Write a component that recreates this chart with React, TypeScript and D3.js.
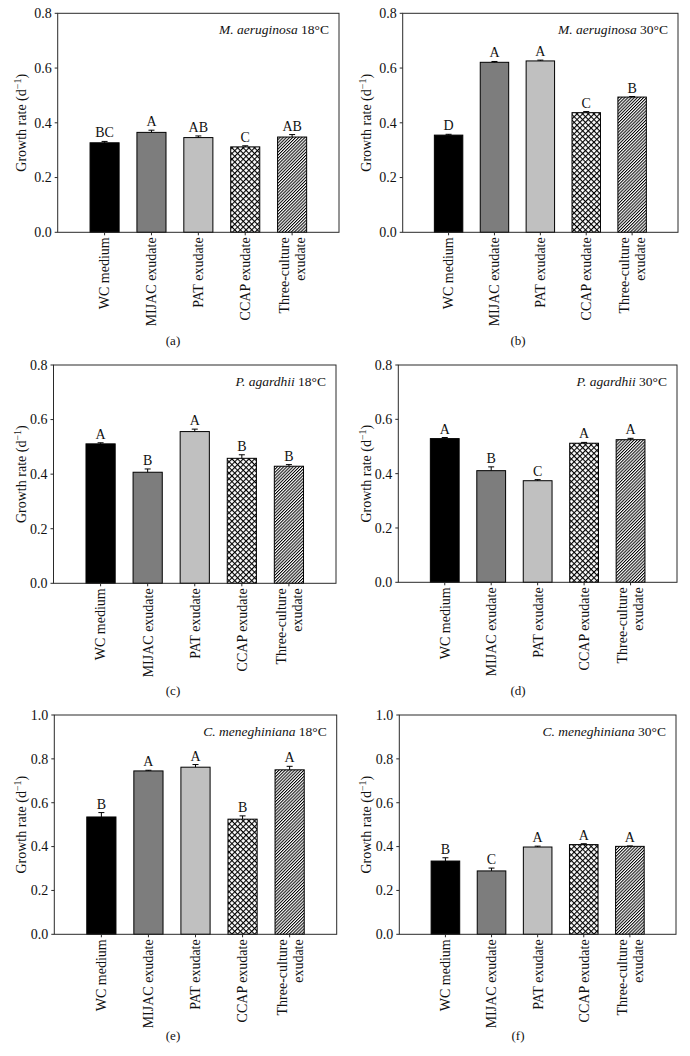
import React from "react";
import * as d3 from "d3";

// ---- data ----
const categories = ["WC medium", "MIJAC exudate", "PAT exudate", "CCAP exudate", "Three-culture exudate"];
const categoryLines = [["WC medium"], ["MIJAC exudate"], ["PAT exudate"], ["CCAP exudate"], ["Three-culture", "exudate"]];

const maeru18 = [0.327, 0.365, 0.346, 0.312, 0.348];
const maeru18Err = [0.005, 0.008, 0.006, 0.004, 0.009];
const maeru18Sig = ["BC", "A", "AB", "C", "AB"];

const maeru30 = [0.355, 0.621, 0.626, 0.437, 0.494];
const maeru30Err = [0.003, 0.003, 0.003, 0.004, 0.002];
const maeru30Sig = ["D", "A", "A", "C", "B"];

const paga18 = [0.511, 0.407, 0.556, 0.458, 0.429];
const paga18Err = [0.004, 0.012, 0.009, 0.013, 0.006];
const paga18Sig = ["A", "B", "A", "B", "B"];

const paga30 = [0.529, 0.411, 0.374, 0.512, 0.525];
const paga30Err = [0.004, 0.014, 0.004, 0.003, 0.005];
const paga30Sig = ["A", "B", "C", "A", "A"];

const cmen18 = [0.535, 0.745, 0.762, 0.525, 0.75];
const cmen18Err = [0.02, 0.003, 0.012, 0.015, 0.016];
const cmen18Sig = ["B", "A", "A", "B", "A"];

const cmen30 = [0.334, 0.289, 0.398, 0.409, 0.401];
const cmen30Err = [0.015, 0.013, 0.004, 0.004, 0.002];
const cmen30Sig = ["B", "C", "A", "A", "A"];

const ticks08 = [0, 0.2, 0.4, 0.6, 0.8];
const ticks10 = [0, 0.2, 0.4, 0.6, 0.8, 1.0];

const fills = ["#000000", "#7d7d7d", "#c0c0c0", "url(#crosshatch)", "url(#diaghatch)"];

const FONT = "'Liberation Serif', 'Times New Roman', serif";
const FS = 14;

const panels = [
  { id: "a", species: "M. aeruginosa", temp: "18°C", values: maeru18, err: maeru18Err, sig: maeru18Sig, ticks: ticks08, ymax: 0.8,
    left: 57.7, right: 339, top: 13.3, bottom: 232.3, colX: 0, subY: 340 },
  { id: "b", species: "M. aeruginosa", temp: "30°C", values: maeru30, err: maeru30Err, sig: maeru30Sig, ticks: ticks08, ymax: 0.8,
    left: 402.7, right: 678, top: 13.3, bottom: 232.3, colX: 345, subY: 340 },
  { id: "c", species: "P. agardhii", temp: "18°C", values: paga18, err: paga18Err, sig: paga18Sig, ticks: ticks08, ymax: 0.8,
    left: 53.5, right: 336, top: 365, bottom: 583.3, colX: 0, subY: 690 },
  { id: "d", species: "P. agardhii", temp: "30°C", values: paga30, err: paga30Err, sig: paga30Sig, ticks: ticks08, ymax: 0.8,
    left: 398.3, right: 677, top: 365, bottom: 582.3, colX: 345, subY: 690 },
  { id: "e", species: "C. meneghiniana", temp: "18°C", values: cmen18, err: cmen18Err, sig: cmen18Sig, ticks: ticks10, ymax: 1.0,
    left: 54.3, right: 336.7, top: 715, bottom: 934.3, colX: 0, subY: 1035 },
  { id: "f", species: "C. meneghiniana", temp: "30°C", values: cmen30, err: cmen30Err, sig: cmen30Sig, ticks: ticks10, ymax: 1.0,
    left: 399.3, right: 676, top: 715, bottom: 934.3, colX: 345, subY: 1035 },
];

function Panel({ p }: { p: any }) {
  const x = d3.scalePoint<string>().domain(categories).range([p.left, p.right]).padding(1);
  const y = d3.scaleLinear().domain([0, p.ymax]).range([p.bottom, p.top]);
  const bw = x.step() * 0.62;
  const fmt = d3.format(".1f");
  const axisColor = "#2a2a2a";
  return (
    <g>
      {categories.map((c, i) => {
        const cx = x(c)!;
        const v = p.values[i];
        const e = p.err[i];
        const yTop = y(v);
        const yErr = y(v + e);
        return (
          <g key={c}>
            <rect x={cx - bw / 2} y={yTop} width={bw} height={p.bottom - yTop} fill={fills[i]} stroke="#000" strokeWidth={1} />
            <line x1={cx} x2={cx} y1={yTop} y2={yErr} stroke="#000" strokeWidth={1} />
            <line x1={cx - 3} x2={cx + 3} y1={yErr} y2={yErr} stroke="#000" strokeWidth={1} />
            <text x={cx} y={yErr - 4} textAnchor="middle" fontSize={FS} fontFamily={FONT} fill="#111">{p.sig[i]}</text>
          </g>
        );
      })}
      <rect x={p.left} y={p.top} width={p.right - p.left} height={p.bottom - p.top} fill="none" stroke={axisColor} strokeWidth={1} />
      {p.ticks.map((t: number) => (
        <g key={t}>
          <line x1={p.left - 3} x2={p.left} y1={y(t)} y2={y(t)} stroke={axisColor} strokeWidth={1} />
          <text x={p.left - 6} y={y(t)} dy="0.35em" textAnchor="end" fontSize={FS} fontFamily={FONT} fill="#111">{fmt(t)}</text>
        </g>
      ))}
      {categories.map((c, i) => {
        const cx = x(c)!;
        const lines = categoryLines[i];
        return (
          <g key={"x" + c}>
            <line x1={cx} x2={cx} y1={p.bottom} y2={p.bottom + 3} stroke={axisColor} strokeWidth={1} />
            <g transform={`translate(${cx},${p.bottom + 5}) rotate(-90)`}>
              {lines.map((ln, j) => {
                const off = lines.length === 1 ? 0 : (j === 0 ? -8 : 8);
                return (
                  <text key={j} x={0} y={off} dy="0.35em" textAnchor="end" fontSize={FS} fontFamily={FONT} fill="#111">{ln}</text>
                );
              })}
            </g>
          </g>
        );
      })}
      <text transform={`translate(${p.colX + 21},${(p.top + p.bottom) / 2}) rotate(-90)`} dy="0.35em" textAnchor="middle" fontSize={FS} fontFamily={FONT} fill="#111">
        Growth rate (d<tspan dy="-5" fontSize={10}>−1</tspan><tspan dy="5">)</tspan>
      </text>
      <text x={p.right - 10} y={p.top + 21} textAnchor="end" fontSize={13.5} fontFamily={FONT} fill="#111">
        <tspan fontStyle="italic">{p.species}</tspan> {p.temp}
      </text>
      <text x={p.colX + 173} y={p.subY} dy="0.35em" textAnchor="middle" fontSize={13} fontFamily={FONT} fill="#111">({p.id})</text>
    </g>
  );
}

export default function App() {
  return (
    <div style={{ position: "absolute", left: 0, top: 0 }}>
      <svg width={690} height={1056} style={{ display: "block", background: "#fff" }}>
        <defs>
          <pattern id="crosshatch" patternUnits="userSpaceOnUse" width={4} height={4} patternTransform="rotate(45)">
            <rect width={4} height={4} fill="#fff" />
            <line x1={0} y1={0} x2={0} y2={4} stroke="#000" strokeWidth={2.2} />
            <line x1={0} y1={0} x2={4} y2={0} stroke="#000" strokeWidth={2.2} />
          </pattern>
          <pattern id="diaghatch" patternUnits="userSpaceOnUse" width={2.2} height={2.2} patternTransform="rotate(45)">
            <rect width={2.2} height={2.2} fill="#fff" />
            <line x1={0.5} y1={0} x2={0.5} y2={2.2} stroke="#000" strokeWidth={1} />
          </pattern>
        </defs>
        <rect width={690} height={1056} fill="#fff" />
        {panels.map((p) => <Panel key={p.id} p={p} />)}
      </svg>
    </div>
  );
}
